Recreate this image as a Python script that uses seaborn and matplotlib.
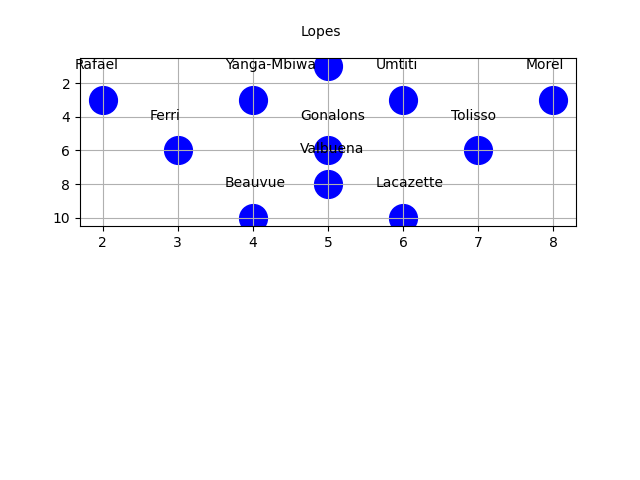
import matplotlib
matplotlib.use("Agg")
import matplotlib.pyplot as plt
import seaborn as sns
import pandas as pd

# players and their spot on the pitch
players = ["Lopes", "Rafael", "Yanga-Mbiwa", "Umtiti", "Morel", "Ferri",
           "Gonalons", "Tolisso", "Valbuena", "Beauvue", "Lacazette"]
pos_x = [5, 2, 4, 6, 8, 3, 5, 7, 5, 4, 6]
pos_y = [1, 3, 3, 3, 3, 6, 6, 6, 8, 10, 10]

df = pd.DataFrame({"player": players, "x": pos_x, "y": pos_y})

fig = plt.figure(figsize=(6.4, 4.8), dpi=100)
ax = fig.add_axes([0.125, 0.529, 0.775, 0.35])

sns.scatterplot(data=df, x="x", y="y", color="blue", s=400,
                edgecolor="blue", linewidth=1, ax=ax)

for _, row in df.iterrows():
    ax.annotate(row["player"], xy=(row["x"], row["y"]), xytext=(-20, 20),
                textcoords="offset points", ha="left", va="bottom")

ax.set_ylim(10.5, 0.5)
ax.grid(True)
ax.set_xlabel("")
ax.set_ylabel("")

fig.savefig("out.png", dpi=100)
